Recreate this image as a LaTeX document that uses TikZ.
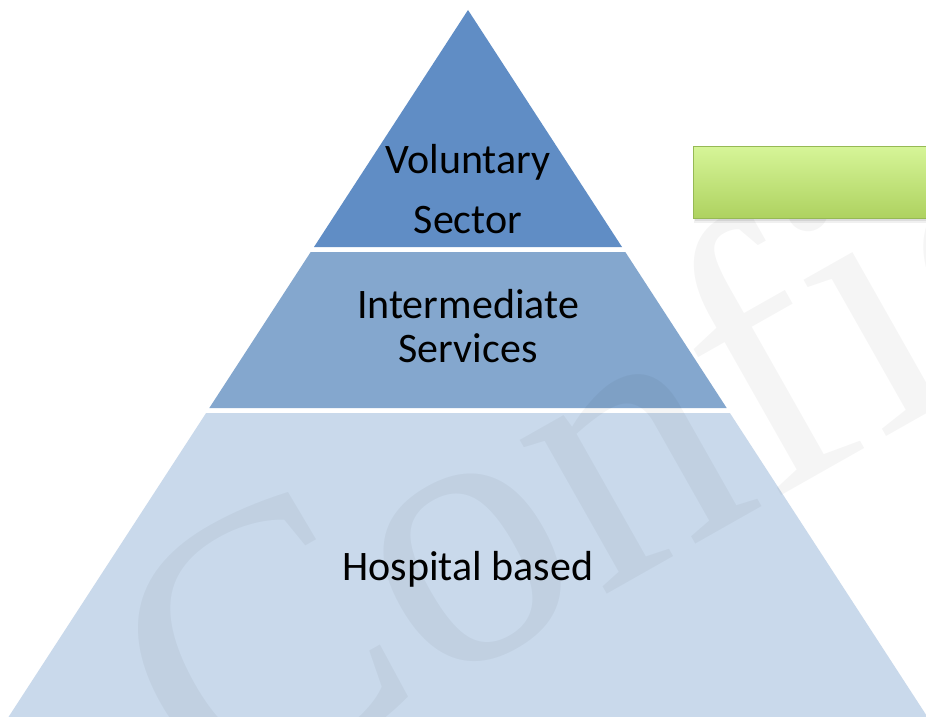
\documentclass[tikz,border=0pt]{standalone}
\usepackage{fontspec}
\setmainfont{Carlito}
\newfontfamily\wmfont{Liberation Serif}
\definecolor{topblue}{RGB}{96,141,197}
\definecolor{midblue}{RGB}{132,167,206}
\definecolor{lowblue}{RGB}{201,217,235}
\definecolor{boxtop}{RGB}{214,245,152}
\definecolor{boxbot}{RGB}{174,210,96}
\definecolor{boxedge}{RGB}{150,185,85}
\begin{document}
\begin{tikzpicture}[x=1pt,y=-1pt,
  lbl/.style={font=\fontsize{42}{44}\selectfont, text=black, inner sep=0pt, anchor=base}]
\useasboundingbox (0,0) rectangle (926,717);
\clip (0,0) rectangle (926,717);
\fill[white] (0,0) rectangle (926,717);
% pyramid bands
\fill[topblue] (468,10) -- (622,247) -- (314,247) -- cycle;
\fill[midblue] (310.7,252) -- (625.3,252) -- (726.7,408) -- (209.3,408) -- cycle;
\fill[lowblue] (206.1,413) -- (729.9,413) -- (931.4,723) -- (4.6,723) -- cycle;
% watermark
\node (wm) [anchor=base west, inner sep=0pt, rotate=29.5, text=black, text opacity=0.04,
  font=\wmfont\fontsize{385}{385}\selectfont] at (208.7,819.5) {Confidential};
% green box with soft shadow
\fill[black, opacity=0.06] (694,149) rectangle (970,223);
\fill[black, opacity=0.08] (695,150) rectangle (970,221);
\node (box) [minimum width=277pt, minimum height=72pt, inner sep=0pt,
  top color=boxtop, bottom color=boxbot, draw=boxedge, line width=0.9pt] at (831.5,182) {};
% labels
\node (vol) [lbl] at (468,173) {Voluntary};
\node (sec) [lbl] at (468,233) {Sector};
\node (int) [lbl] at (468,318) {Intermediate};
\node (ser) [lbl] at (468,362) {Services};
\node (hos) [lbl] at (468,580) {Hospital based};
\end{tikzpicture}
\end{document}
